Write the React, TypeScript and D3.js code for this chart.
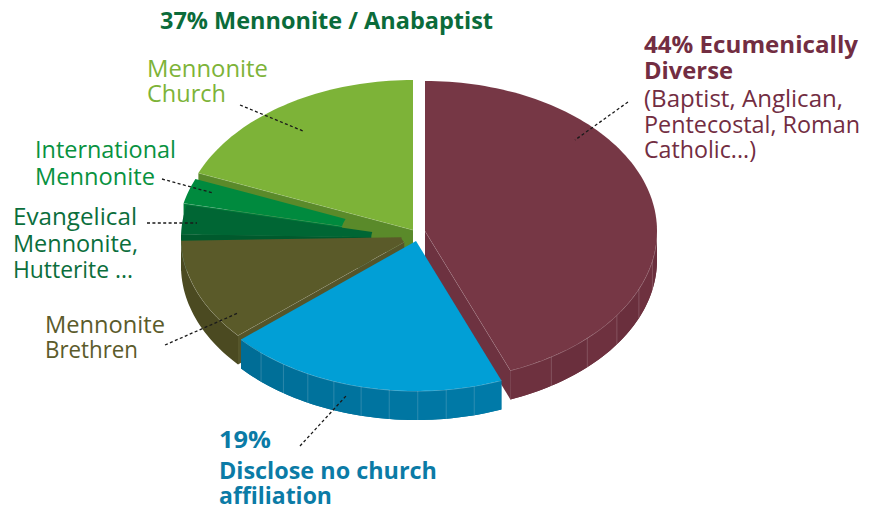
import React from "react";
import * as d3 from "d3";

// ---------- data ----------
const categories = [
  "Ecumenically Diverse",
  "Disclose no church affiliation",
  "Mennonite Brethren",
  "Hutterite",
  "Evangelical Mennonite",
  "International Mennonite",
  "Mennonite Church",
];
const values = [44, 19.6, 11.0, 0.8, 3.1, 2.7, 18.8];

const titleText = "37% Mennonite / Anabaptist";
const churchLines = ["Mennonite", "Church"];
const intlLines = ["International", "Mennonite"];
const evangLines = ["Evangelical", "Mennonite,", "Hutterite ..."];
const brethrenLines = ["Mennonite", "Brethren"];
const noneLines = ["19%", "Disclose no church", "affiliation"];
const ecuBoldLines = ["44% Ecumenically", "Diverse"];
const ecuLines = ["(Baptist, Anglican,", "Pentecostal, Roman", "Catholic...)"];

// ---------- styles / layout ----------
const topColors = ["#763745", "#019fd6", "#5a5a29", "#005a2d", "#006634", "#008a3e", "#7db338"];
const wallColors = ["#6c303e", "#00709a", "#4b4a21", "#004f27", "#00592d", "#007836", "#5a8a2a"];
const faceColors = ["#6d3240", "#00709a", "#55552a", "#004f27", "#00592d", "#007a38", "#5a8a2a"];
const offsets = [[12, 1], [3, 11], [0, 7], [0, 8], [0, 8], [-3, 6], [0, 0]];
const innerK = [0, 0, 0.05, 0.18, 0.18, 0.3, 0];
const facetDeg = [12, 7, 0, 0, 0, 0, 0];

const CX = 413, CY = 230, RX = 232, RY = 150, H = 29;
const FONT = "'Open Sans', 'Noto Sans', sans-serif";

type Pt = [number, number];
const P = (cx: number, cy: number, k: number, a: number): Pt => [
  cx + k * RX * Math.sin(a),
  cy - k * RY * Math.cos(a),
];
const arcPts = (cx: number, cy: number, k: number, a0: number, a1: number): Pt[] => {
  const n = Math.max(2, Math.ceil(Math.abs(a1 - a0) / (Math.PI / 120)));
  return d3.range(n + 1).map((i) => P(cx, cy, k, a0 + ((a1 - a0) * i) / n));
};
const poly = (pts: Pt[]) => "M" + pts.map((p) => p[0].toFixed(2) + "," + p[1].toFixed(2)).join("L") + "Z";
const down = (pts: Pt[]): Pt[] => pts.map((p) => [p[0], p[1] + H] as Pt);

const arcs = d3.pie<number>().sort(null).startAngle(0).endAngle(2 * Math.PI)(values);

function topFace(i: number) {
  const a = arcs[i];
  const cx = CX + offsets[i][0], cy = CY + offsets[i][1];
  const outer = arcPts(cx, cy, 1, a.startAngle, a.endAngle);
  const inner = innerK[i] > 0 ? arcPts(cx, cy, innerK[i], a.endAngle, a.startAngle) : [[cx, cy] as Pt];
  return (
    <g key={"top" + i}>
      <path d={poly(outer.concat(inner))} fill={topColors[i]} />
    </g>
  );
}

function radialFaces(i: number) {
  const a = arcs[i];
  const cx = CX + offsets[i][0], cy = CY + offsets[i][1];
  const out: any[] = [];
  const add = (ang: number, normal: number, key: string) => {
    if (Math.cos(normal) < -0.01) {
      const inP = innerK[i] > 0 ? P(cx, cy, innerK[i], ang) : ([cx, cy] as Pt);
      const rim = P(cx, cy, 1, ang);
      const pts: Pt[] = [inP, rim, [rim[0], rim[1] + H], [inP[0], inP[1] + H]];
      out.push(<path key={key} d={poly(pts)} fill={faceColors[i]} />);
      out.push(
        <line key={key + "l"} x1={inP[0]} y1={inP[1]} x2={rim[0]} y2={rim[1]}
          stroke="rgba(255,255,255,0.35)" strokeWidth={0.7} />
      );
    }
  };
  add(a.startAngle, a.startAngle - Math.PI / 2, "fs" + i);
  add(a.endAngle, a.endAngle + Math.PI / 2, "fe" + i);
  return out;
}

function walls(i: number) {
  const a = arcs[i];
  const cx = CX + offsets[i][0], cy = CY + offsets[i][1];
  const v0 = Math.max(a.startAngle, Math.PI / 2);
  const v1 = Math.min(a.endAngle, (3 * Math.PI) / 2);
  if (v1 <= v0) return null;
  const top = arcPts(cx, cy, 1, v0, v1);
  const els: any[] = [];
  const col = d3.color(wallColors[i])!;
  els.push(<path key="w" d={poly(top.concat(down(top).reverse()))} fill={wallColors[i]} />);
  if (facetDeg[i] > 0) {
    const step = (facetDeg[i] * Math.PI) / 180;
    const n = Math.max(1, Math.round((v1 - v0) / step));
    for (let j = 0; j < n; j++) {
      const f0 = v0 + ((v1 - v0) * j) / n, f1 = v0 + ((v1 - v0) * (j + 1)) / n;
      const t = arcPts(cx, cy, 1, f0, f1);
      const shade = i === 1 ? col.brighter(0.35 * (1 - (f0 - v0) / (v1 - v0)) - 0.1) : col.brighter(0.08 * ((j % 2) - 0.5));
      els.push(<path key={"f" + j} d={poly(t.concat(down(t).reverse()))} fill={shade.formatHex()} />);
      if (j > 0) {
        const p = P(cx, cy, 1, f0);
        els.push(<line key={"fl" + j} x1={p[0]} y1={p[1]} x2={p[0]} y2={p[1] + H}
          stroke="rgba(255,255,255,0.22)" strokeWidth={0.8} />);
      }
    }
  }
  els.push(<path key="rim" d={"M" + top.map((p) => p.join(",")).join("L")} fill="none"
    stroke="rgba(255,255,255,0.4)" strokeWidth={0.8} />);
  return <g key={"wall" + i}>{els}</g>;
}

function Lines(props: { lines: string[]; x: number; ys: number[]; size: number; weight: number; color: string; widths: number[] }) {
  const { lines, x, ys, size, weight, color, widths } = props;
  return (
    <g>
      {lines.map((l, i) => (
        <text key={i} x={x} y={ys[i]} fontSize={size} fontWeight={weight} fill={color}
          fontFamily={FONT} textLength={widths[i]} lengthAdjust="spacingAndGlyphs">
          {l}
        </text>
      ))}
    </g>
  );
}

const Leader = (p: { x1: number; y1: number; x2: number; y2: number }) => (
  <line {...p} stroke="#1a1a1a" strokeWidth={1.3} strokeDasharray="3 2.4" />
);

export default function App() {
  const greensBack = [5, 4, 3, 2];
  return (
    <svg width={880} height={508} style={{ position: "absolute", left: 0, top: 0, background: "#fff" }}>
      {/* Mennonite Church back face */}
      {radialFaces(6)}
      {walls(6)}
      {greensBack.map((i) => (
        <g key={"g" + i}>
          {walls(i)}
          {radialFaces(i)}
          {topFace(i)}
        </g>
      ))}
      {topFace(6)}
      {/* Ecumenically Diverse */}
      {radialFaces(0)}
      {walls(0)}
      {topFace(0)}
      {/* No affiliation */}
      {radialFaces(1)}
      {walls(1)}
      {topFace(1)}

      {/* leader lines */}
      <Leader x1={628} y1={102} x2={575} y2={140} />
      <Leader x1={240} y1={105} x2={303} y2={131} />
      <Leader x1={162} y1={179} x2={213} y2={193} />
      <Leader x1={147} y1={223} x2={197} y2={223} />
      <Leader x1={165} y1={345} x2={238} y2={313} />
      <Leader x1={300} y1={446} x2={346} y2={396} />

      {/* labels */}
      <Lines lines={[titleText]} x={160} ys={[29]} size={22.5} weight={700} color="#0b6b3a" widths={[333]} />
      <Lines lines={churchLines} x={147} ys={[77, 102]} size={23.5} weight={400} color="#7db338" widths={[121, 79]} />
      <Lines lines={intlLines} x={35} ys={[158, 185]} size={23.5} weight={400} color="#08923f" widths={[141, 120]} />
      <Lines lines={evangLines} x={13} ys={[225, 252, 278]} size={23.5} weight={400} color="#0b6e3c" widths={[124, 125, 120]} />
      <Lines lines={brethrenLines} x={45} ys={[333, 358]} size={23.5} weight={400} color="#5b5b2b" widths={[120, 93]} />
      <Lines lines={noneLines} x={219} ys={[448, 479, 504]} size={23.5} weight={700} color="#0b7ba6" widths={[52, 218, 113]} />
      <Lines lines={ecuBoldLines} x={644} ys={[53, 79]} size={23.5} weight={700} color="#722d42" widths={[214, 89]} />
      <Lines lines={ecuLines} x={644} ys={[107, 133, 158]} size={23.5} weight={400} color="#722d42" widths={[199, 216, 112]} />
    </svg>
  );
}
